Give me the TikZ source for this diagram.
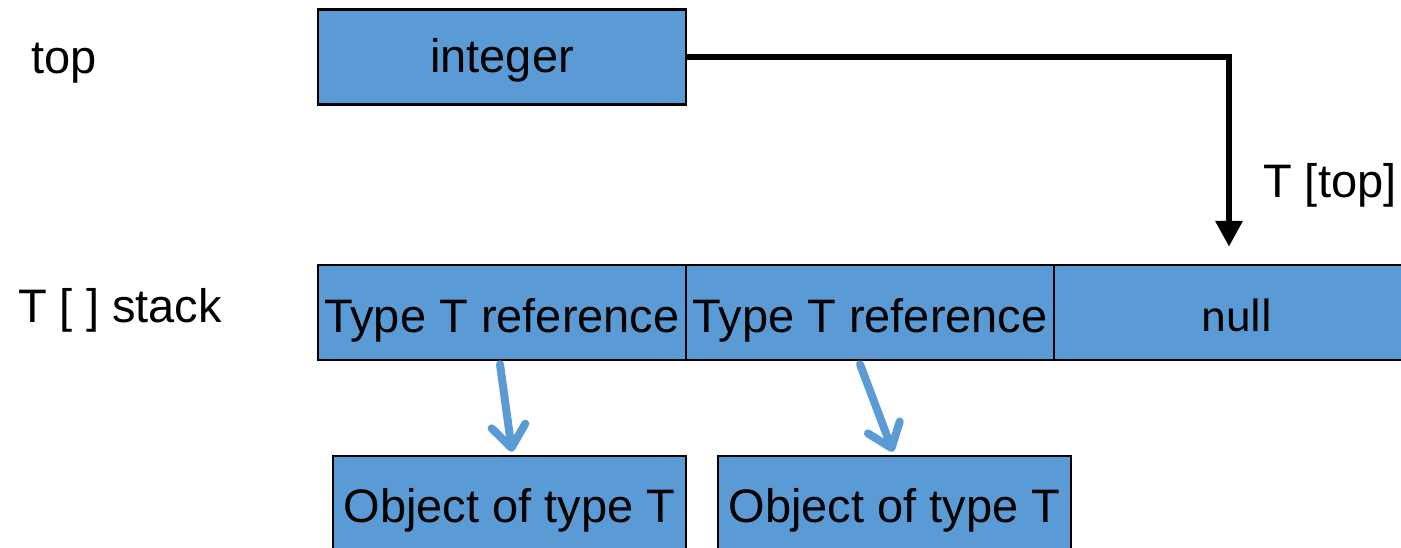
\documentclass[tikz,border=0pt]{standalone}
\usepackage{fontspec}
\setmainfont{Liberation Sans}
\newfontfamily\calfont{Carlito}
\usetikzlibrary{arrows.meta}
\definecolor{boxblue}{HTML}{5B9BD5}
\begin{document}
\begin{tikzpicture}[x=1pt,y=1pt,
  cell/.style={draw=black, line width=2.5pt, fill=boxblue, minimum width=#1, minimum height=95pt, inner sep=0pt, text depth=0pt, font=\fontsize{47}{56}\selectfont},
  cell/.default=368pt,
  lbl/.style={inner sep=0pt, anchor=base west, font=\fontsize{47}{56}\selectfont},
  blk/.style={line width=6.5pt, -{Triangle[width=26pt,length=26pt]}},
  blu/.style={draw=boxblue, line width=8pt, line cap=round, -{Straight Barb[length=22pt,width=34pt,round]}}
]
\useasboundingbox (0,0) rectangle (1401,-547);
\begin{scope}
\clip (0,0) rectangle (1401,-547);
\node[cell, text height=30pt] (integer) at (502,-57) {integer};
\node[cell, text height=39pt] (c1) at (502,-312.5) {Type T reference};
\node[cell, text height=39pt] (c2) at (870,-312.5) {Type T reference};
\node[cell=366pt, text height=37pt, font=\calfont\fontsize{47}{56}\selectfont] (c3) at (1237,-312.5) {null};
\node[cell=353pt, minimum height=102pt, text height=30pt] (obj1) at (509.5,-507) {Object of type T};
\node[cell=353pt, minimum height=102pt, text height=30pt] (obj2) at (894.5,-507) {Object of type T};
\end{scope}
\node[lbl] (toplbl) at (31,-73) {top};
\node[lbl] (stacklbl) at (18,-322) {T [ ] stack};
\node[lbl] (ttop) at (1263,-197) {T [top]};
\draw[blk] (integer.east) -| ([xshift=-8pt,yshift=17pt]c3.north);
\draw[blu] ([xshift=-2pt,yshift=-3pt]c1.south) -- ([xshift=2.5pt,yshift=3pt]obj1.north);
\draw[blu] ([xshift=-10pt,yshift=-3pt]c2.south) -- ([xshift=-1.5pt,yshift=3pt]obj2.north);
\end{tikzpicture}
\end{document}
